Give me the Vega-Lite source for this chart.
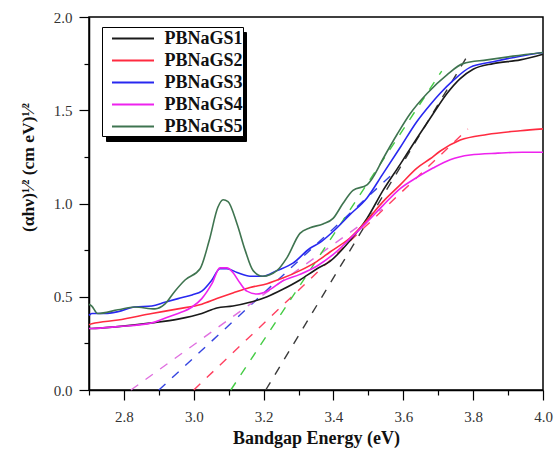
{
  "$schema": "https://vega.github.io/schema/vega-lite/v6.json",
  "autosize": "none",
  "width": 454,
  "height": 373,
  "padding": {"left": 89, "top": 17, "right": 13, "bottom": 61},
  "background": "white",
  "config": {
    "view": {"stroke": "black", "strokeWidth": 1.5},
    "axis": {
      "grid": false,
      "domainColor": "black",
      "domainWidth": 1.5,
      "tickColor": "black",
      "tickWidth": 1.2,
      "labelColor": "#333333",
      "labelFont": "Liberation Serif",
      "labelFontSize": 15,
      "labelOverlap": false,
      "labelFlush": false,
      "titleFont": "Liberation Serif",
      "titleFontWeight": "bold",
      "titleFontSize": 18,
      "titleColor": "#111111"
    },
    "legend": {
      "title": null,
      "orient": "none",
      "padding": 0,
      "rowPadding": 1,
      "labelFont": "Liberation Serif",
      "labelFontSize": 18,
      "labelFontWeight": "bold",
      "labelColor": "#111111"
    }
  },
  "datasets": {
    "curves": [
      {"sample": "PBNaGS1", "energy": 2.700, "value": 0.33},
      {"sample": "PBNaGS1", "energy": 2.708, "value": 0.33},
      {"sample": "PBNaGS1", "energy": 2.783, "value": 0.34},
      {"sample": "PBNaGS1", "energy": 2.880, "value": 0.36},
      {"sample": "PBNaGS1", "energy": 2.955, "value": 0.38},
      {"sample": "PBNaGS1", "energy": 3.023, "value": 0.41},
      {"sample": "PBNaGS1", "energy": 3.066, "value": 0.44},
      {"sample": "PBNaGS1", "energy": 3.112, "value": 0.45},
      {"sample": "PBNaGS1", "energy": 3.161, "value": 0.47},
      {"sample": "PBNaGS1", "energy": 3.210, "value": 0.50},
      {"sample": "PBNaGS1", "energy": 3.255, "value": 0.54},
      {"sample": "PBNaGS1", "energy": 3.304, "value": 0.59},
      {"sample": "PBNaGS1", "energy": 3.353, "value": 0.65},
      {"sample": "PBNaGS1", "energy": 3.390, "value": 0.69},
      {"sample": "PBNaGS1", "energy": 3.447, "value": 0.80},
      {"sample": "PBNaGS1", "energy": 3.496, "value": 0.92},
      {"sample": "PBNaGS1", "energy": 3.542, "value": 1.07},
      {"sample": "PBNaGS1", "energy": 3.591, "value": 1.21},
      {"sample": "PBNaGS1", "energy": 3.639, "value": 1.35},
      {"sample": "PBNaGS1", "energy": 3.685, "value": 1.48},
      {"sample": "PBNaGS1", "energy": 3.725, "value": 1.59},
      {"sample": "PBNaGS1", "energy": 3.763, "value": 1.67},
      {"sample": "PBNaGS1", "energy": 3.800, "value": 1.72},
      {"sample": "PBNaGS1", "energy": 3.857, "value": 1.75},
      {"sample": "PBNaGS1", "energy": 3.935, "value": 1.77},
      {"sample": "PBNaGS1", "energy": 4.000, "value": 1.80},

      {"sample": "PBNaGS2", "energy": 2.700, "value": 0.35},
      {"sample": "PBNaGS2", "energy": 2.708, "value": 0.355},
      {"sample": "PBNaGS2", "energy": 2.783, "value": 0.375},
      {"sample": "PBNaGS2", "energy": 2.880, "value": 0.41},
      {"sample": "PBNaGS2", "energy": 2.955, "value": 0.435},
      {"sample": "PBNaGS2", "energy": 3.023, "value": 0.46},
      {"sample": "PBNaGS2", "energy": 3.066, "value": 0.49},
      {"sample": "PBNaGS2", "energy": 3.112, "value": 0.52},
      {"sample": "PBNaGS2", "energy": 3.161, "value": 0.55},
      {"sample": "PBNaGS2", "energy": 3.210, "value": 0.57},
      {"sample": "PBNaGS2", "energy": 3.255, "value": 0.60},
      {"sample": "PBNaGS2", "energy": 3.304, "value": 0.64},
      {"sample": "PBNaGS2", "energy": 3.353, "value": 0.69},
      {"sample": "PBNaGS2", "energy": 3.390, "value": 0.74},
      {"sample": "PBNaGS2", "energy": 3.447, "value": 0.815},
      {"sample": "PBNaGS2", "energy": 3.496, "value": 0.91},
      {"sample": "PBNaGS2", "energy": 3.542, "value": 1.01},
      {"sample": "PBNaGS2", "energy": 3.591, "value": 1.10},
      {"sample": "PBNaGS2", "energy": 3.639, "value": 1.19},
      {"sample": "PBNaGS2", "energy": 3.677, "value": 1.24},
      {"sample": "PBNaGS2", "energy": 3.705, "value": 1.28},
      {"sample": "PBNaGS2", "energy": 3.763, "value": 1.34},
      {"sample": "PBNaGS2", "energy": 3.840, "value": 1.37},
      {"sample": "PBNaGS2", "energy": 3.935, "value": 1.39},
      {"sample": "PBNaGS2", "energy": 4.000, "value": 1.40},

      {"sample": "PBNaGS3", "energy": 2.700, "value": 0.40},
      {"sample": "PBNaGS3", "energy": 2.708, "value": 0.41},
      {"sample": "PBNaGS3", "energy": 2.745, "value": 0.41},
      {"sample": "PBNaGS3", "energy": 2.783, "value": 0.42},
      {"sample": "PBNaGS3", "energy": 2.831, "value": 0.445},
      {"sample": "PBNaGS3", "energy": 2.880, "value": 0.45},
      {"sample": "PBNaGS3", "energy": 2.917, "value": 0.47},
      {"sample": "PBNaGS3", "energy": 2.955, "value": 0.49},
      {"sample": "PBNaGS3", "energy": 2.995, "value": 0.51},
      {"sample": "PBNaGS3", "energy": 3.023, "value": 0.53},
      {"sample": "PBNaGS3", "energy": 3.052, "value": 0.59},
      {"sample": "PBNaGS3", "energy": 3.075, "value": 0.65},
      {"sample": "PBNaGS3", "energy": 3.095, "value": 0.65},
      {"sample": "PBNaGS3", "energy": 3.124, "value": 0.63},
      {"sample": "PBNaGS3", "energy": 3.161, "value": 0.61},
      {"sample": "PBNaGS3", "energy": 3.198, "value": 0.61},
      {"sample": "PBNaGS3", "energy": 3.238, "value": 0.64},
      {"sample": "PBNaGS3", "energy": 3.284, "value": 0.68},
      {"sample": "PBNaGS3", "energy": 3.333, "value": 0.76},
      {"sample": "PBNaGS3", "energy": 3.361, "value": 0.79},
      {"sample": "PBNaGS3", "energy": 3.399, "value": 0.85},
      {"sample": "PBNaGS3", "energy": 3.447, "value": 0.94},
      {"sample": "PBNaGS3", "energy": 3.496, "value": 1.03},
      {"sample": "PBNaGS3", "energy": 3.542, "value": 1.16},
      {"sample": "PBNaGS3", "energy": 3.591, "value": 1.30},
      {"sample": "PBNaGS3", "energy": 3.639, "value": 1.44},
      {"sample": "PBNaGS3", "energy": 3.677, "value": 1.53},
      {"sample": "PBNaGS3", "energy": 3.705, "value": 1.59},
      {"sample": "PBNaGS3", "energy": 3.743, "value": 1.66},
      {"sample": "PBNaGS3", "energy": 3.791, "value": 1.73},
      {"sample": "PBNaGS3", "energy": 3.857, "value": 1.76},
      {"sample": "PBNaGS3", "energy": 3.935, "value": 1.79},
      {"sample": "PBNaGS3", "energy": 4.000, "value": 1.81},

      {"sample": "PBNaGS4", "energy": 2.700, "value": 0.33},
      {"sample": "PBNaGS4", "energy": 2.708, "value": 0.33},
      {"sample": "PBNaGS4", "energy": 2.783, "value": 0.34},
      {"sample": "PBNaGS4", "energy": 2.880, "value": 0.36},
      {"sample": "PBNaGS4", "energy": 2.917, "value": 0.385},
      {"sample": "PBNaGS4", "energy": 2.955, "value": 0.41},
      {"sample": "PBNaGS4", "energy": 2.995, "value": 0.445},
      {"sample": "PBNaGS4", "energy": 3.023, "value": 0.49},
      {"sample": "PBNaGS4", "energy": 3.052, "value": 0.57},
      {"sample": "PBNaGS4", "energy": 3.075, "value": 0.655},
      {"sample": "PBNaGS4", "energy": 3.095, "value": 0.655},
      {"sample": "PBNaGS4", "energy": 3.112, "value": 0.63},
      {"sample": "PBNaGS4", "energy": 3.132, "value": 0.575},
      {"sample": "PBNaGS4", "energy": 3.152, "value": 0.53},
      {"sample": "PBNaGS4", "energy": 3.181, "value": 0.515},
      {"sample": "PBNaGS4", "energy": 3.210, "value": 0.53},
      {"sample": "PBNaGS4", "energy": 3.255, "value": 0.585},
      {"sample": "PBNaGS4", "energy": 3.304, "value": 0.62},
      {"sample": "PBNaGS4", "energy": 3.353, "value": 0.665},
      {"sample": "PBNaGS4", "energy": 3.395, "value": 0.72},
      {"sample": "PBNaGS4", "energy": 3.447, "value": 0.81},
      {"sample": "PBNaGS4", "energy": 3.496, "value": 0.90},
      {"sample": "PBNaGS4", "energy": 3.542, "value": 0.99},
      {"sample": "PBNaGS4", "energy": 3.591, "value": 1.08},
      {"sample": "PBNaGS4", "energy": 3.639, "value": 1.14},
      {"sample": "PBNaGS4", "energy": 3.685, "value": 1.19},
      {"sample": "PBNaGS4", "energy": 3.734, "value": 1.235},
      {"sample": "PBNaGS4", "energy": 3.791, "value": 1.26},
      {"sample": "PBNaGS4", "energy": 3.871, "value": 1.27},
      {"sample": "PBNaGS4", "energy": 3.941, "value": 1.275},
      {"sample": "PBNaGS4", "energy": 4.000, "value": 1.275},

      {"sample": "PBNaGS5", "energy": 2.700, "value": 0.46},
      {"sample": "PBNaGS5", "energy": 2.708, "value": 0.45},
      {"sample": "PBNaGS5", "energy": 2.725, "value": 0.41},
      {"sample": "PBNaGS5", "energy": 2.783, "value": 0.43},
      {"sample": "PBNaGS5", "energy": 2.831, "value": 0.445},
      {"sample": "PBNaGS5", "energy": 2.889, "value": 0.435},
      {"sample": "PBNaGS5", "energy": 2.917, "value": 0.46},
      {"sample": "PBNaGS5", "energy": 2.946, "value": 0.53},
      {"sample": "PBNaGS5", "energy": 2.975, "value": 0.59},
      {"sample": "PBNaGS5", "energy": 3.018, "value": 0.65},
      {"sample": "PBNaGS5", "energy": 3.044, "value": 0.80},
      {"sample": "PBNaGS5", "energy": 3.069, "value": 0.98},
      {"sample": "PBNaGS5", "energy": 3.084, "value": 1.02},
      {"sample": "PBNaGS5", "energy": 3.098, "value": 1.01},
      {"sample": "PBNaGS5", "energy": 3.124, "value": 0.89},
      {"sample": "PBNaGS5", "energy": 3.147, "value": 0.75},
      {"sample": "PBNaGS5", "energy": 3.170, "value": 0.64},
      {"sample": "PBNaGS5", "energy": 3.198, "value": 0.61},
      {"sample": "PBNaGS5", "energy": 3.238, "value": 0.64},
      {"sample": "PBNaGS5", "energy": 3.267, "value": 0.71},
      {"sample": "PBNaGS5", "energy": 3.304, "value": 0.84},
      {"sample": "PBNaGS5", "energy": 3.333, "value": 0.87},
      {"sample": "PBNaGS5", "energy": 3.370, "value": 0.89},
      {"sample": "PBNaGS5", "energy": 3.399, "value": 0.92},
      {"sample": "PBNaGS5", "energy": 3.427, "value": 1.00},
      {"sample": "PBNaGS5", "energy": 3.456, "value": 1.07},
      {"sample": "PBNaGS5", "energy": 3.496, "value": 1.10},
      {"sample": "PBNaGS5", "energy": 3.513, "value": 1.14},
      {"sample": "PBNaGS5", "energy": 3.542, "value": 1.24},
      {"sample": "PBNaGS5", "energy": 3.582, "value": 1.37},
      {"sample": "PBNaGS5", "energy": 3.619, "value": 1.48},
      {"sample": "PBNaGS5", "energy": 3.668, "value": 1.59},
      {"sample": "PBNaGS5", "energy": 3.725, "value": 1.69},
      {"sample": "PBNaGS5", "energy": 3.771, "value": 1.75},
      {"sample": "PBNaGS5", "energy": 3.840, "value": 1.77},
      {"sample": "PBNaGS5", "energy": 3.914, "value": 1.79},
      {"sample": "PBNaGS5", "energy": 4.000, "value": 1.81}
    ],
    "tangents": [
      {"sample": "PBNaGS1", "energy": 3.206, "value": 0},
      {"sample": "PBNaGS1", "energy": 3.780, "value": 1.78},
      {"sample": "PBNaGS2", "energy": 3.000, "value": 0},
      {"sample": "PBNaGS2", "energy": 3.785, "value": 1.40},
      {"sample": "PBNaGS3", "energy": 2.900, "value": 0},
      {"sample": "PBNaGS3", "energy": 3.570, "value": 1.16},
      {"sample": "PBNaGS4", "energy": 2.820, "value": 0},
      {"sample": "PBNaGS4", "energy": 3.540, "value": 0.97},
      {"sample": "PBNaGS5", "energy": 3.106, "value": 0},
      {"sample": "PBNaGS5", "energy": 3.710, "value": 1.71}
    ]
  },
  "layer": [
    {
      "data": {"name": "tangents"},
      "mark": {"type": "line", "strokeWidth": 1.4, "strokeDash": [9, 9]},
      "encoding": {
        "x": {"field": "energy", "type": "quantitative"},
        "y": {"field": "value", "type": "quantitative"},
        "color": {
          "field": "sample",
          "type": "nominal",
          "scale": {
            "domain": ["PBNaGS1", "PBNaGS2", "PBNaGS3", "PBNaGS4", "PBNaGS5"],
            "range": ["#3a3a3a", "#ff4060", "#3444e0", "#e070e0", "#44cc44"]
          },
          "legend": {
            "legendX": 17,
            "legendY": 15,
            "strokeColor": "black",
            "fillColor": "black",
            "symbolType": "square",
            "symbolSize": 441,
            "symbolOffset": 0,
            "symbolOpacity": 0,
            "symbolStrokeWidth": 0,
            "labelOffset": 119,
            "labelExpr": "''"
          }
        }
      }
    },
    {
      "data": {"name": "curves"},
      "mark": {"type": "line", "strokeWidth": 1.6, "interpolate": "monotone"},
      "encoding": {
        "x": {
          "field": "energy",
          "type": "quantitative",
          "scale": {"domain": [2.7, 4.0], "nice": false, "zero": false},
          "axis": {
            "title": "Bandgap Energy (eV)",
            "values": [2.7, 2.8, 2.9, 3.0, 3.1, 3.2, 3.3, 3.4, 3.5, 3.6, 3.7, 3.8, 3.9, 4.0],
            "tickCount": 30,
            "labelExpr": "round(datum.value * 10) % 2 == 0 ? format(datum.value, '.1f') : ''",
            "tickSize": {"condition": {"test": "round(datum.value * 10) % 2 == 0", "value": 10}, "value": 5},
            "labelPadding": 9,
            "titleY": 53,
            "titleBaseline": "alphabetic"
          }
        },
        "y": {
          "field": "value",
          "type": "quantitative",
          "scale": {"domain": [0, 2], "nice": false},
          "axis": {
            "title": "(αhν)¹⁄² (cm eV)¹⁄²",
            "titleFontSize": 17.5,
            "values": [0, 0.25, 0.5, 0.75, 1.0, 1.25, 1.5, 1.75, 2.0],
            "tickCount": 30,
            "labelExpr": "round(datum.value * 4) % 2 == 0 ? format(datum.value, '.1f') : ''",
            "tickSize": {"condition": {"test": "round(datum.value * 4) % 2 == 0", "value": 10}, "value": 5},
            "labelPadding": 7,
            "titleX": -61,
            "titleY": 150,
            "titleBaseline": "middle"
          }
        },
        "color": {
          "field": "sample",
          "type": "nominal",
          "scale": {
            "domain": ["PBNaGS1", "PBNaGS2", "PBNaGS3", "PBNaGS4", "PBNaGS5"],
            "range": ["#1a1a1a", "#ff2b40", "#2828f0", "#ee22ee", "#3f7450"]
          },
          "legend": {
            "legendX": 13,
            "legendY": 10,
            "strokeColor": "black",
            "fillColor": "white",
            "symbolType": "M-2,0H2",
            "symbolSize": 441,
            "symbolStrokeWidth": 2,
            "symbolOffset": 19.5,
            "labelOffset": 20,
            "labelExpr": "datum.label + '\u00a0\u00a0'"
          }
        }
      }
    }
  ],
  "resolve": {"scale": {"color": "independent"}}
}
